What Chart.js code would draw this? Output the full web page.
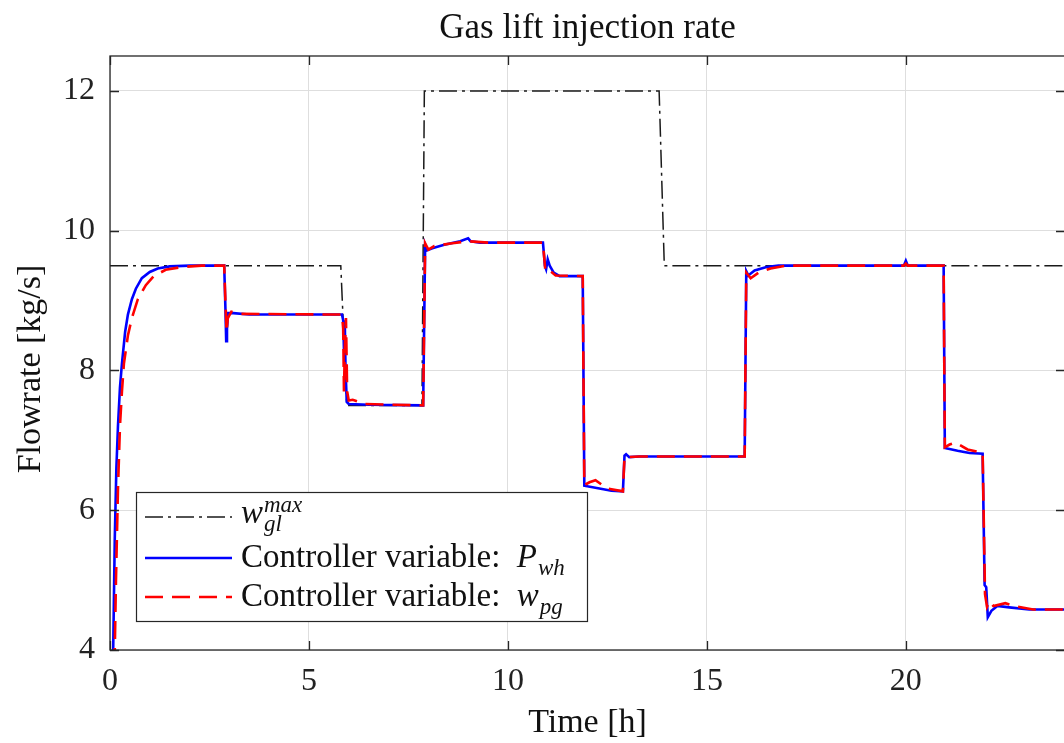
<!DOCTYPE html>
<html>
<head>
<meta charset="utf-8">
<script src="https://cdn.jsdelivr.net/npm/chart.js@4"></script>
<style>
    body { margin: 0; background: #fff; overflow: hidden; }
    #wrap { width: 1070px; height: 743px; }
</style>
</head>
<body>
<div id="wrap"><canvas id="gasChart" width="1070" height="743"></canvas></div>
<script>
// Upper bound w_gl^max (dash-dot)
const timeMax = [0, 5.8, 5.95, 7.84, 7.9, 13.8, 13.93, 24];
const rateMax = [9.5, 9.5, 7.5, 7.5, 12, 12, 9.5, 9.5];

// Controller variable P_wh (solid blue)
const timePwh = [0.05, 0.08, 0.12, 0.16, 0.2, 0.25, 0.3, 0.38, 0.45, 0.55, 0.65, 0.8, 1.0, 1.2, 1.5, 2.0,
    2.87, 2.9, 2.92, 2.94, 2.97, 3.1, 3.5, 5.83, 5.86, 5.88, 5.9, 5.92, 5.95, 6.0, 6.5,
    7.87, 7.92, 7.97, 8.1, 8.4, 8.8, 9.0, 9.06, 9.3, 10.88, 10.93, 10.96, 11.0, 11.05, 11.15, 11.3,
    11.88, 11.92, 12.3, 12.6, 12.89, 12.93, 12.97, 13.05, 13.3, 15.95, 15.99, 16.04, 16.2, 16.5, 16.8,
    19.95, 20.0, 20.05, 20.95, 20.98, 21.3, 21.6, 21.93, 21.98, 22.02, 22.06, 22.15, 22.3, 22.6, 23.1, 24];
const ratePwh = [3.0, 4.0, 5.6, 6.6, 7.2, 7.75, 8.1, 8.55, 8.8, 9.02, 9.17, 9.32, 9.41, 9.46, 9.49, 9.5,
    9.5, 8.9, 8.42, 8.6, 8.82, 8.82, 8.8, 8.8, 8.72, 8.3, 8.7, 8.0, 7.55, 7.52, 7.51,
    7.5, 9.8, 9.72, 9.75, 9.8, 9.85, 9.89, 9.85, 9.83, 9.83, 9.5, 9.45, 9.59, 9.5, 9.4, 9.35,
    9.35, 6.35, 6.31, 6.28, 6.27, 6.78, 6.8, 6.76, 6.77, 6.77, 9.42, 9.36, 9.43, 9.48, 9.5,
    9.5, 9.57, 9.5, 9.5, 6.89, 6.85, 6.82, 6.81, 4.93, 4.9, 4.47, 4.56, 4.63, 4.61, 4.58, 4.58];

// Controller variable w_pg (dashed red)
const timeWpg = [0.08, 0.12, 0.15, 0.2, 0.25, 0.3, 0.35, 0.45, 0.55, 0.7, 0.9, 1.1, 1.4, 1.8, 2.3,
    2.87, 2.9, 2.93, 2.96, 3.05, 3.3, 5.83, 5.86, 5.88, 5.9, 5.93, 5.96, 6.0, 6.1, 6.4,
    7.87, 7.92, 8.0, 8.15, 8.6, 9.0, 9.5, 10.88, 10.94, 11.0, 11.2,
    11.88, 11.92, 12.05, 12.2, 12.5, 12.89, 12.93, 13.0, 13.3, 15.95, 15.99, 16.1, 16.3, 16.6, 17.0,
    19.95, 20.0, 20.05, 20.95, 20.98, 21.1, 21.25, 21.55, 21.93, 21.99, 22.04, 22.1, 22.2, 22.5, 22.8, 23.2, 24];
const rateWpg = [3.0, 4.0, 5.0, 6.3, 7.2, 7.7, 8.1, 8.5, 8.75, 9.02, 9.22, 9.35, 9.44, 9.48, 9.5,
    9.5, 9.0, 8.55, 8.75, 8.84, 8.81, 8.8, 8.6, 7.7, 8.3, 8.75, 7.7, 7.57, 7.58, 7.52,
    7.5, 9.82, 9.73, 9.78, 9.82, 9.85, 9.83, 9.83, 9.43, 9.45, 9.36,
    9.35, 6.36, 6.4, 6.43, 6.31, 6.27, 6.76, 6.76, 6.77, 6.77, 9.4, 9.32, 9.4, 9.46, 9.5,
    9.5, 9.53, 9.5, 9.5, 6.9, 6.94, 6.97, 6.87, 6.82, 4.8, 4.62, 4.7, 4.63, 4.67, 4.62, 4.58, 4.58];

// Axis ticks
const xTicks = [0, 5, 10, 15, 20];
const yTicks = [4, 6, 8, 10, 12];

// Legend labels, split into math parts
const legendLabels = [
    [{ t: "w", it: true }, { t: "max", it: true, sup: true }, { t: "gl", it: true, sub: true }],
    [{ t: "Controller variable:  " }, { t: "P", it: true }, { t: "wh", it: true, sub: true }],
    [{ t: "Controller variable:  " }, { t: "w", it: true }, { t: "pg", it: true, sub: true }]
];

function pairs(ts, ys) {
    return ts.map((t, i) => ({ x: t, y: ys[i] }));
}

const serif = "'Liberation Serif', 'DejaVu Serif', serif";
const axisColor = "#262626";

// Box, inward ticks, y title and legend, MATLAB style
const framePlugin = {
    id: "frame",
    afterDatasetsDraw(chart) {
        const ctx = chart.ctx;
        const a = chart.chartArea;
        const xs = chart.scales.x, ys = chart.scales.y;
        ctx.save();
        ctx.strokeStyle = axisColor;
        ctx.lineWidth = 1.3;
        ctx.beginPath();
        xTicks.forEach(v => {
            const px = Math.round(xs.getPixelForValue(v)) + 0.5;
            ctx.moveTo(px, a.bottom); ctx.lineTo(px, a.bottom - 9);
            ctx.moveTo(px, a.top); ctx.lineTo(px, a.top + 9);
        });
        yTicks.forEach(v => {
            const py = Math.round(ys.getPixelForValue(v)) + 0.5;
            ctx.moveTo(a.left, py); ctx.lineTo(a.left + 9, py);
            ctx.moveTo(a.right, py); ctx.lineTo(a.right - 9, py);
        });
        ctx.stroke();
        ctx.strokeRect(a.left, a.top, a.right - a.left, a.bottom - a.top);

        // y axis title
        ctx.translate(31, (a.top + a.bottom) / 2 + 16);
        ctx.rotate(-Math.PI / 2);
        ctx.fillStyle = "#111";
        ctx.font = "34px " + serif;
        ctx.textAlign = "center";
        ctx.textBaseline = "middle";
        ctx.fillText("Flowrate [kg/s]", 0, 0);
        ctx.restore();
    },
    afterDraw(chart) {
        const ctx = chart.ctx;
        const a = chart.chartArea;
        const bx = a.left + 26, by = a.bottom - 158, bw = 451, bh = 129;
        const rows = [25, 66, 105];
        ctx.save();
        ctx.fillStyle = "#fff";
        ctx.fillRect(bx, by, bw, bh);
        ctx.strokeStyle = axisColor;
        ctx.lineWidth = 1.2;
        ctx.strokeRect(bx + 0.5, by + 0.5, bw, bh);
        chart.data.datasets.forEach((ds, i) => {
            const ly = by + rows[i];
            ctx.save();
            ctx.strokeStyle = ds.borderColor;
            ctx.lineWidth = ds.borderWidth;
            ctx.setLineDash(ds.borderDash || []);
            ctx.beginPath();
            ctx.moveTo(bx + 9, ly);
            ctx.lineTo(bx + 96, ly);
            ctx.stroke();
            ctx.restore();

            let x = bx + 105;
            const base = ly + (i === 0 ? 6 : 9);
            let scriptX = null;
            ctx.fillStyle = "#111";
            ctx.textBaseline = "alphabetic";
            legendLabels[i].forEach(p => {
                const size = (p.sub || p.sup) ? 23 : 33;
                ctx.font = (p.it ? "italic " : "") + size + "px " + serif;
                if (p.sub || p.sup) {
                    if (scriptX === null) scriptX = x + 1;
                    const yy = p.sup ? base - 11 : base + 8;
                    ctx.fillText(p.t, scriptX, yy);
                    x = Math.max(x, scriptX + ctx.measureText(p.t).width);
                } else {
                    ctx.fillText(p.t, x, base);
                    x += ctx.measureText(p.t).width;
                    scriptX = null;
                }
            });
        });
        ctx.restore();
    }
};

const ctx = document.getElementById("gasChart").getContext("2d");
new Chart(ctx, {
    type: "line",
    data: {
        datasets: [
            {
                label: "w_gl^max",
                data: pairs(timeMax, rateMax),
                borderColor: "#1a1a1a",
                borderWidth: 1.5,
                borderDash: [18, 5, 3, 5],
                pointRadius: 0,
                order: 2
            },
            {
                label: "Controller variable: P_wh",
                data: pairs(timePwh, ratePwh),
                borderColor: "#0000ff",
                borderWidth: 2.6,
                pointRadius: 0,
                order: 1
            },
            {
                label: "Controller variable: w_pg",
                data: pairs(timeWpg, rateWpg),
                borderColor: "#ff0000",
                borderWidth: 2.6,
                borderDash: [18, 9],
                pointRadius: 0,
                order: 0
            }
        ]
    },
    options: {
        responsive: false,
        animation: false,
        layout: { padding: { right: 5, left: 0, top: 0, bottom: 0 } },
        plugins: {
            legend: { display: false },
            tooltip: { enabled: false },
            title: {
                display: true,
                fullSize: false,
                text: "Gas lift injection rate",
                color: "#111",
                font: { family: serif, size: 35, weight: "normal", lineHeight: 1.2 },
                padding: { top: 8, bottom: 6 }
            }
        },
        scales: {
            x: {
                type: "linear",
                min: 0,
                max: 24,
                afterFit: scale => { scale.height = 93; },
                afterBuildTicks: scale => { scale.ticks = xTicks.map(v => ({ value: v })); },
                border: { display: false },
                grid: { color: "#dedede", lineWidth: 1, drawTicks: false },
                ticks: {
                    color: "#222",
                    padding: 12,
                    autoSkip: false,
                    maxRotation: 0,
                    font: { family: serif, size: 32 }
                },
                title: {
                    display: true,
                    text: "Time [h]",
                    color: "#111",
                    font: { family: serif, size: 34, lineHeight: 1.2 },
                    padding: { top: 0, bottom: 0 }
                }
            },
            y: {
                min: 4,
                max: 12.5,
                afterFit: scale => { scale.width = 110; },
                afterBuildTicks: scale => { scale.ticks = yTicks.map(v => ({ value: v })); },
                border: { display: false },
                grid: { color: "#dedede", lineWidth: 1, drawTicks: false },
                ticks: {
                    color: "#222",
                    padding: 15,
                    font: { family: serif, size: 32 }
                },
                title: { display: false }
            }
        }
    },
    plugins: [framePlugin]
});
</script>
</body>
</html>
